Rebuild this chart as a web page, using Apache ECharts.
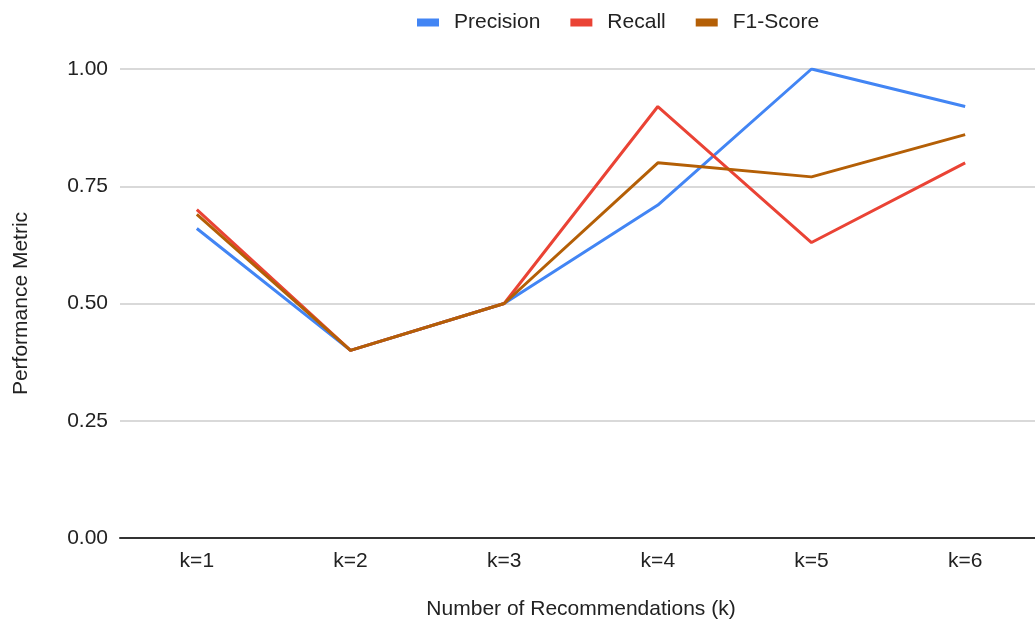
<!DOCTYPE html>
<html>
<head>
<meta charset="utf-8">
<script src="https://cdn.jsdelivr.net/npm/echarts@6/dist/echarts.min.js"></script>
<style>
  html, body { margin: 0; padding: 0; background: #fff; }
  #metricChart { width: 1035px; height: 628px; }
</style>
</head>
<body>
<div id="metricChart"></div>
<script>
// categories on x axis
const categories = ['k=1', 'k=2', 'k=3', 'k=4', 'k=5', 'k=6'];
// series values
const precision = [0.66, 0.40, 0.50, 0.71, 1.00, 0.92];
const recall    = [0.70, 0.40, 0.50, 0.92, 0.63, 0.80];
const f1Score   = [0.69, 0.40, 0.50, 0.80, 0.77, 0.86];
// y tick labels
const yTicks = ['0.00', '0.25', '0.50', '0.75', '1.00'];

const font = 'Arial, "Liberation Sans", sans-serif';

const metricChart = echarts.init(document.getElementById('metricChart'));

const option = {
  animation: false,
  color: ['#4285f4', '#ea4335', '#b45f06'],
  // 图例
  legend: {
    top: 7,
    left: 412,
    itemWidth: 22,
    itemHeight: 8,
    itemGap: 30,
    icon: 'rect',
    textStyle: {
      fontFamily: font,
      fontSize: 21,
      color: '#222',
      padding: [0, 0, 0, 10]
    },
    data: ['Precision', 'Recall', 'F1-Score']
  },
  // plot area runs past the right edge, like the reference
  grid: {
    left: 120,
    width: 922,
    top: 69,
    bottom: 90,
    containLabel: false,
    outerBoundsMode: 'none'
  },
  xAxis: {
    type: 'category',
    data: categories,
    boundaryGap: true,
    name: 'Number of Recommendations (k)',
    nameLocation: 'middle',
    nameGap: 61,
    nameTextStyle: { fontFamily: font, fontSize: 21, color: '#222' },
    axisLine: { lineStyle: { color: '#333', width: 2 } },
    axisTick: { show: false },
    axisLabel: {
      margin: 13,
      fontFamily: font,
      fontSize: 21,
      color: '#222'
    }
  },
  yAxis: {
    type: 'value',
    min: 0,
    max: 1,
    interval: 0.25,
    name: 'Performance Metric',
    nameLocation: 'middle',
    nameGap: 88,
    nameTextStyle: { fontFamily: font, fontSize: 21, color: '#222' },
    axisLine: { show: false },
    axisTick: { show: false },
    splitLine: { lineStyle: { color: '#cccccc', width: 1.5 } },
    axisLabel: {
      margin: 12,
      fontFamily: font,
      fontSize: 21,
      color: '#222',
      formatter: function (v) { return yTicks[Math.round(v / 0.25)]; }
    }
  },
  series: [
    { name: 'Precision', type: 'line', data: precision, symbol: 'none', lineStyle: { width: 3 } },
    { name: 'Recall', type: 'line', data: recall, symbol: 'none', lineStyle: { width: 3 } },
    { name: 'F1-Score', type: 'line', data: f1Score, symbol: 'none', lineStyle: { width: 3 } }
  ]
};

metricChart.setOption(option, true);
</script>
</body>
</html>
